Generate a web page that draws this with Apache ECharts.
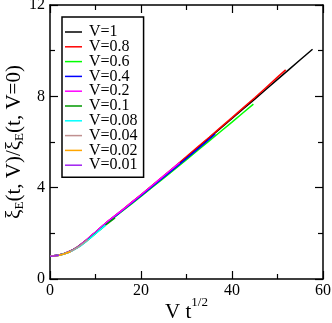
<!DOCTYPE html>
<html>
<head>
<meta charset="utf-8">
<script src="https://cdn.jsdelivr.net/npm/echarts@6/dist/echarts.min.js"></script>
<style>
  html, body { margin: 0; padding: 0; background: #fff; }
  #box { width: 332px; height: 323px; }
</style>
</head>
<body>
<div id="box"></div>
<script>
// legend names and colours
const names = ['V=1', 'V=0.8', 'V=0.6', 'V=0.4', 'V=0.2', 'V=0.1', 'V=0.08', 'V=0.04', 'V=0.02', 'V=0.01']
const colors = ['#000000', '#ff0000', '#00ff00', '#0000ff', '#ff00ff', '#009900', '#00ffff', '#c09090', '#ffa500', '#a020f0']

// curves (x = V t^1/2, y = ratio)
const v1X = [0, 2, 4, 6, 8, 10, 12, 14, 16, 20, 25, 30, 35, 40, 45, 50, 55, 57.7]
const v1Y = [1.00, 1.05, 1.18, 1.40, 1.70, 2.05, 2.40, 2.72, 3.03, 3.68, 4.50, 5.33, 6.18, 7.03, 7.88, 8.74, 9.60, 10.06]
const v08X = [0, 2, 4, 6, 8, 10, 12, 14, 16, 20, 25, 30, 35, 40, 45, 50, 51.8]
const v08Y = [1.00, 1.05, 1.18, 1.40, 1.70, 2.05, 2.40, 2.72, 3.04, 3.69, 4.52, 5.36, 6.21, 7.07, 7.94, 8.84, 9.16]
const v06X = [0, 2, 4, 6, 8, 10, 12, 14, 16, 20, 25, 30, 35, 40, 44.7]
const v06Y = [1.00, 1.05, 1.17, 1.38, 1.68, 2.02, 2.36, 2.68, 2.99, 3.62, 4.42, 5.23, 6.05, 6.87, 7.66]
const v04X = [0, 2, 4, 6, 8, 10, 12, 14, 16, 20, 25, 30, 35, 36.3]
const v04Y = [1.00, 1.05, 1.17, 1.39, 1.69, 2.03, 2.38, 2.70, 3.01, 3.65, 4.46, 5.28, 6.12, 6.35]
const v02X = [0, 2, 4, 6, 8, 10, 12, 14, 16, 20, 24, 28.5]
const v02Y = [1.00, 1.05, 1.18, 1.40, 1.71, 2.06, 2.41, 2.73, 3.04, 3.69, 4.35, 5.10]
const v01X = [0, 2, 4, 6, 8, 10, 12, 14.3]
const v01Y = [1.00, 1.04, 1.16, 1.37, 1.66, 1.99, 2.33, 2.68]
const v008X = [0, 2, 4, 6, 8, 10, 12.2]
const v008Y = [1.00, 1.04, 1.16, 1.36, 1.65, 1.98, 2.36]
const v004X = [0, 2, 4, 6, 8.3]
const v004Y = [1.00, 1.04, 1.16, 1.37, 1.72]
const v002X = [0, 1, 2, 3, 4.5]
const v002Y = [1.00, 1.01, 1.04, 1.09, 1.19]
const v001X = [0, 1, 2]
const v001Y = [1.00, 1.01, 1.04]

const curves = [
  [v1X, v1Y], [v08X, v08Y], [v06X, v06Y], [v04X, v04Y], [v02X, v02Y],
  [v01X, v01Y], [v008X, v008Y], [v004X, v004Y], [v002X, v002Y], [v001X, v001Y]
]

const xTicks = { min: 0, max: 60, interval: 20 }
const yTicks = { min: 0, max: 12, interval: 4 }

const font = 'Liberation Serif'

function pair(xs, ys) {
  return xs.map((x, i) => [x, ys[i]])
}

const series = curves.map((c, i) => ({
  name: names[i],
  type: 'line',
  data: pair(c[0], c[1]),
  symbol: 'none',
  smooth: 0.2,
  color: colors[i],
  lineStyle: { width: 1.5, color: colors[i] },
  z: 2 + i
}))

function axisBase(extra) {
  return Object.assign({
    type: 'value',
    nameMoveOverlap: false,
    axisLine: { show: true, onZero: false, lineStyle: { color: '#000', width: 1.5 } },
    axisTick: { show: true, inside: true, length: 8, lineStyle: { color: '#000', width: 1.2 } },
    minorTick: { show: true, splitNumber: 2, length: 5, lineStyle: { color: '#000', width: 1.2 } },
    splitLine: { show: false },
    minorSplitLine: { show: false },
    axisLabel: { color: '#000', fontFamily: font, fontSize: 16 }
  }, extra)
}

var myChart = echarts.init(document.getElementById('box'))
myChart.setOption({
  animation: false,
  grid: { left: 50, right: 9, top: 5, bottom: 44, containLabel: false, outerBoundsMode: 'none' },
  legend: {
    orient: 'vertical',
    left: 62,
    top: 17,
    data: names,
    icon: 'rect',
    itemWidth: 17,
    itemHeight: 1.5,
    itemGap: -1.2,
    padding: [7, 6, 4, 3],
    borderColor: '#000',
    borderWidth: 1.5,
    borderRadius: 0,
    backgroundColor: '#fff',
    selectedMode: false,
    textStyle: { fontFamily: font, fontSize: 16, color: '#000', lineHeight: 15, padding: [0, 0, 0, 2] }
  },
  xAxis: [
    axisBase(Object.assign({}, xTicks, {
      position: 'bottom',
      name: '{m|V t}{sup|1/2}',
      nameLocation: 'middle',
      nameGap: 17,
      nameTextStyle: {
        fontFamily: font, fontSize: 21, color: '#000',
        rich: {
          m: { fontFamily: font, fontSize: 21, color: '#000', verticalAlign: 'bottom' },
          sup: { fontFamily: font, fontSize: 13, color: '#000', verticalAlign: 'top', padding: [0, 0, 14, 0] }
        }
      },
      axisLabel: { color: '#000', fontFamily: font, fontSize: 16, margin: 4 }
    })),
    axisBase(Object.assign({}, xTicks, {
      position: 'top',
      axisLabel: { show: false }
    }))
  ],
  yAxis: [
    axisBase(Object.assign({}, yTicks, {
      position: 'left',
      name: 'ξ{sub|E}(t, V)/ξ{sub|E}(t, V=0)',
      nameLocation: 'middle',
      nameRotate: 90,
      nameGap: 24,
      nameTextStyle: {
        fontFamily: font, fontSize: 21, color: '#000',
        rich: { sub: { fontFamily: font, fontSize: 13, color: '#000', padding: [10, 0, 0, 0] } }
      },
      axisLabel: { color: '#000', fontFamily: font, fontSize: 16, margin: 5 }
    })),
    axisBase(Object.assign({}, yTicks, {
      position: 'right',
      axisLabel: { show: false }
    }))
  ],
  series: series
})
</script>
</body>
</html>
